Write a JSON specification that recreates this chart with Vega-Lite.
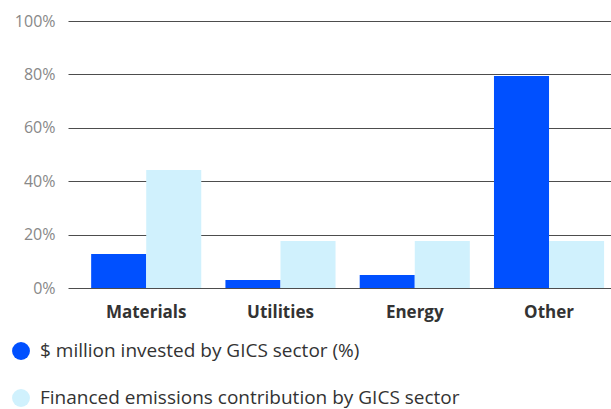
{
  "$schema": "https://vega.github.io/schema/vega-lite/v6.json",
  "width": 543,
  "height": 267,
  "autosize": {"type": "none"},
  "padding": {"left": 68, "top": 21, "right": 0, "bottom": 121},
  "background": "white",
  "config": {"font": "Open Sans", "view": {"stroke": null}},
  "data": {
    "values": [
      {"sector": "Materials", "series": "$ million invested by GICS sector (%)", "value": 0.127},
      {"sector": "Materials", "series": "Financed emissions contribution by GICS sector", "value": 0.442},
      {"sector": "Utilities", "series": "$ million invested by GICS sector (%)", "value": 0.03},
      {"sector": "Utilities", "series": "Financed emissions contribution by GICS sector", "value": 0.176},
      {"sector": "Energy", "series": "$ million invested by GICS sector (%)", "value": 0.049},
      {"sector": "Energy", "series": "Financed emissions contribution by GICS sector", "value": 0.176},
      {"sector": "Other", "series": "$ million invested by GICS sector (%)", "value": 0.794},
      {"sector": "Other", "series": "Financed emissions contribution by GICS sector", "value": 0.176}
    ]
  },
  "mark": {"type": "bar"},
  "encoding": {
    "x": {
      "field": "sector", "type": "nominal", "sort": null,
      "scale": {"paddingInner": 0.18, "paddingOuter": 0.112, "align": 0.77},
      "axis": {"title": null, "labelAngle": 0, "domain": false, "ticks": false, "labelFontSize": 17, "labelFontWeight": "bold", "labelColor": "#333333", "labelPadding": 16}
    },
    "xOffset": {"field": "series", "type": "nominal", "sort": null, "scale": {"paddingInner": 0, "paddingOuter": 0}},
    "y": {
      "field": "value", "type": "quantitative",
      "scale": {"domain": [0, 1], "nice": false},
      "axis": {"title": null, "format": ".0%", "values": [0, 0.2, 0.4, 0.6, 0.8, 1], "domain": false, "ticks": false, "labelFontSize": 16, "labelColor": "#888888", "labelPadding": 13, "gridColor": "#4d4d4d", "gridWidth": 1, "gridOpacity": 1}
    },
    "color": {
      "field": "series", "type": "nominal", "sort": null,
      "scale": {"range": ["#0050FF", "#D0F1FD"]},
      "legend": {
        "title": null, "orient": "none", "legendX": -57, "legendY": 320, "direction": "vertical",
        "symbolType": "circle", "symbolSize": 320, "symbolOpacity": 1,
        "labelFontSize": 19, "labelColor": "#333333", "labelOffset": 9, "rowPadding": 27, "labelLimit": 600
      }
    }
  }
}
